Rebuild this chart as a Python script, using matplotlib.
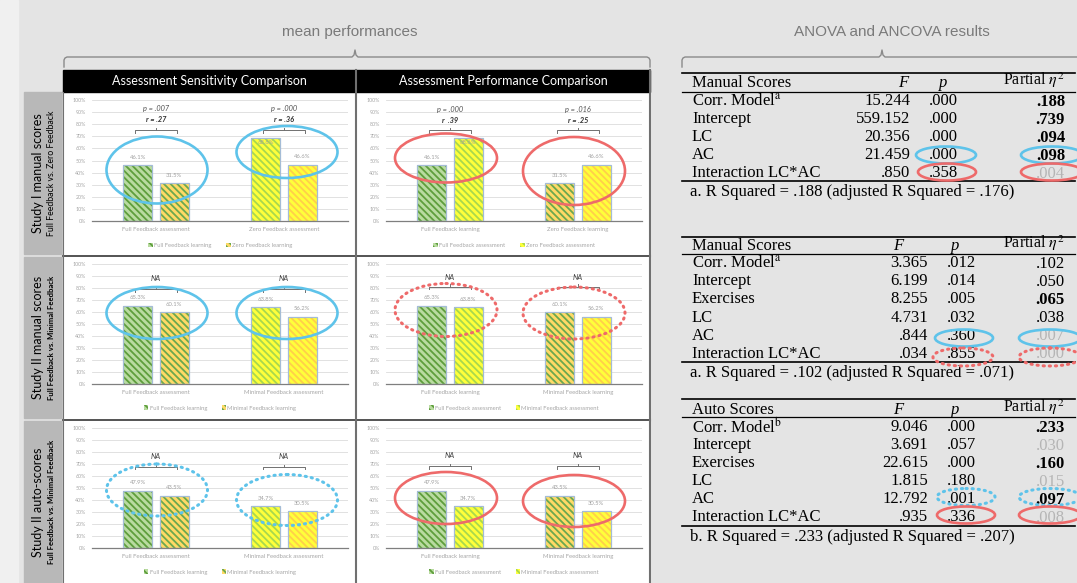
import matplotlib.pyplot as plt
from matplotlib.patches import Rectangle, Ellipse

plt.rcParams['font.family'] = ['Lato', 'DejaVu Sans']
plt.rcParams['mathtext.fontset'] = 'stix'
plt.rcParams['hatch.linewidth'] = 1.3

W, H = 1077, 583

# ---- bar chart data ----
assess_s1 = ['Full Feedback assessment', 'Zero Feedback assessment']
learn_s1 = ['Full Feedback learning', 'Zero Feedback learning']
assess_s2 = ['Full Feedback assessment', 'Minimal Feedback assessment']
learn_s2 = ['Full Feedback learning', 'Minimal Feedback learning']
# row = learning condition, column = assessment condition (%)
study1_manual = [[46.1, 68.6], [31.5, 46.6]]
study2_manual = [[65.3, 63.8], [60.1, 56.2]]
study2_auto = [[47.9, 34.7], [43.5, 30.5]]

sens_s1_stats = [['p = .007', 'r = .27'], ['p = .000', 'r = .36']]
perf_s1_stats = [['p = .000', 'r  .39'], ['p = .016', 'r = .25']]

row_titles = ['Study I manual scores', 'Study II manual scores', 'Study II auto-scores']
row_subtitles = ['Full Feedback vs. Zero Feedback', 'Full Feedback vs. Minimal Feedback',
                 'Full Feedback vs. Minimal Feedback']
col_titles = ['Assessment Sensitivity Comparison', 'Assessment Performance Comparison']

# ---- ANOVA / ANCOVA tables ----
t1_head = 'Manual Scores'
t1_rows = ['Corr. Model$^\\mathrm{a}$', 'Intercept', 'LC', 'AC', 'Interaction LC*AC']
t1_F = ['15.244', '559.152', '20.356', '21.459', '.850']
t1_p = ['.000', '.000', '.000', '.000', '.358']
t1_eta = ['.188', '.739', '.094', '.098', '.004']
t1_note = 'a. R Squared = .188 (adjusted R Squared = .176)'

t2_head = 'Manual Scores'
t2_rows = ['Corr. Model$^\\mathrm{a}$', 'Intercept', 'Exercises', 'LC', 'AC', 'Interaction LC*AC']
t2_F = ['3.365', '6.199', '8.255', '4.731', '.844', '.034']
t2_p = ['.012', '.014', '.005', '.032', '.360', '.855']
t2_eta = ['.102', '.050', '.065', '.038', '.007', '.000']
t2_note = 'a. R Squared = .102 (adjusted R Squared = .071)'

t3_head = 'Auto Scores'
t3_rows = ['Corr. Model$^\\mathrm{b}$', 'Intercept', 'Exercises', 'LC', 'AC', 'Interaction LC*AC']
t3_F = ['9.046', '3.691', '22.615', '1.815', '12.792', '.935']
t3_p = ['.000', '.057', '.000', '.180', '.001', '.336']
t3_eta = ['.233', '.030', '.160', '.015', '.097', '.008']
t3_note = 'b. R Squared = .233 (adjusted R Squared = .207)'

# b = bold, n = normal, g = greyed out
t1_style = ['b', 'b', 'b', 'b', 'g']
t2_style = ['n', 'n', 'b', 'n', 'g', 'g']
t3_style = ['b', 'g', 'b', 'g', 'b', 'g']

BLUE = '#5ec3ea'
RED = '#ee6a6a'
fills = [['#b9dba0', '#ffff3a'], ['#ffd966', '#ffff3a']]
hatch_cols = [['#5e9e3c', '#a8d84e'], ['#6aa84f', '#ffcf4a']]


def frac(x0, y0, x1, y1):
    return [x0 / W, 1 - y1 / H, (x1 - x0) / W, (y1 - y0) / H]


fig = plt.figure(figsize=(10.77, 5.83), dpi=100, facecolor='#e4e4e4')
bg = fig.add_axes([0, 0, 1, 1], zorder=0)
top = fig.add_axes([0, 0, 1, 1], zorder=5)
for a in (bg, top):
    a.set_xlim(0, W)
    a.set_ylim(H, 0)
    a.axis('off')

# page layout
bg.add_patch(Rectangle((0, 0), 18, H, color='#f0f0f0'))
row_y = [(92, 254), (257, 418), (421, 583)]
for k, (y0, y1) in enumerate(row_y):
    bg.add_patch(Rectangle((24, y0), 39, y1 - y0, color='#b8b8b8'))
    bg.add_patch(Rectangle((63, y0), 292, y1 - y0, color='white'))
    bg.add_patch(Rectangle((357, y0), 293, y1 - y0, color='white'))
    cy = (y0 + y1) / 2
    bg.text(38, cy, row_titles[k], rotation=90, ha='center', va='center', fontsize=9)
    bg.text(52, cy, row_subtitles[k], rotation=90, ha='center', va='center',
            fontsize=6.3 if k == 0 else 5.6, weight='normal' if k == 0 else 'bold')
bg.add_patch(Rectangle((63, 70), 587, 22, color='black'))
bg.text(209, 81, col_titles[0], color='white', ha='center', va='center', fontsize=9)
bg.text(503, 81, col_titles[1], color='white', ha='center', va='center', fontsize=9)
for y in (255.5, 419.5):
    bg.plot([63, 650], [y, y], color='#3a3a3a', lw=1.2)
bg.plot([356, 356], [70, H], color='#707070', lw=1.5)
bg.plot([650, 650], [70, H], color='#707070', lw=1.5)
bg.plot([63, 63], [92, H], color='#707070', lw=0.8)


def brace(ax, x0, x1, xm, y):
    xs = [x0, x0, x0 + 1, x0 + 3, xm - 3, xm - 1, xm, xm + 1, xm + 3, x1 - 3, x1 - 1, x1, x1]
    ys = [y + 10, y + 3, y + 1, y, y, y - 2, y - 7, y - 2, y, y, y + 1, y + 3, y + 10]
    ax.plot(xs, ys, color='#8a8a8a', lw=1)


brace(bg, 64, 650, 355, 57)
brace(bg, 682, 1082, 882, 57)
bg.text(350, 32, 'mean performances', ha='center', va='center', fontsize=11,
        color='#7a7a7a', family='Liberation Sans')
bg.text(892, 32, 'ANOVA and ANCOVA results', ha='center', va='center', fontsize=11,
        color='#7a7a7a', family='Liberation Sans')

# ---- bar panels ----
col_x = [(92, 348), (386, 642)]
row_ax_y = [(100, 221), (264, 384), (428, 548)]
panels = [
    (0, 0, study1_manual, assess_s1, learn_s1, sens_s1_stats, 93, 75),
    (0, 1, study1_manual, learn_s1, assess_s1, perf_s1_stats, 92.5, 75),
    (1, 0, study2_manual, assess_s2, learn_s2, None, 88, 79),
    (1, 1, study2_manual, learn_s2, assess_s2, None, 89, 81),
    (2, 0, study2_auto, assess_s2, learn_s2, None, 76, 67.5),
    (2, 1, study2_auto, learn_s2, assess_s2, None, 77, 68),
]

for row, col, vals, groups, series, stats, stat_y, brk_y in panels:
    x0, x1 = col_x[col]
    y0, y1 = row_ax_y[row]
    ax = fig.add_axes(frac(x0, y0, x1, y1), zorder=2)
    ax.patch.set_alpha(0)
    handles = [None, None]
    for i in range(2):
        for j in range(2):
            g, s = (j, i) if col == 0 else (i, j)
            x = g + (s - 0.5) * 0.285
            v = vals[i][j]
            b = ax.bar(x, v, 0.23, color=fills[i][j], edgecolor=hatch_cols[i][j],
                       hatch='\\\\\\\\\\', lw=0, zorder=2)
            ax.bar(x, v, 0.23, fill=False, edgecolor='#a4bcd6', lw=0.9, zorder=3)
            if g == 0:
                handles[s] = b
            ly = v + 6.5 if v + 6.5 < brk_y - 3 else v - 4
            ax.text(x, ly, f'{v}%', ha='center', va='center', fontsize=4.2,
                    color='#a0a0a0', zorder=4)
    for g in range(2):
        if stats is None:
            ax.text(g, stat_y, 'NA', ha='center', va='center', fontsize=5.5,
                    style='italic', color='#404040')
        else:
            ax.text(g, stat_y, stats[g][0], ha='center', va='center', fontsize=5.3,
                    style='italic', color='#505050')
            ax.text(g, stat_y - 9.5, stats[g][1], ha='center', va='center', fontsize=5.3,
                    style='italic', weight='bold', color='#303030')
        ax.plot([g - 0.165, g - 0.165, g + 0.165, g + 0.165],
                [brk_y - 2, brk_y, brk_y, brk_y - 2], color='#707070', lw=0.7)
        ax.plot([g, g], [brk_y, brk_y + 2], color='#707070', lw=0.7)
    ax.set_xlim(-0.5, 1.5)
    ax.set_ylim(0, 100)
    ax.set_yticks(range(0, 101, 10))
    ax.set_yticklabels([f'{t}%' for t in range(0, 101, 10)])
    ax.set_xticks([0, 1])
    ax.set_xticklabels(groups)
    ax.tick_params(axis='y', length=0, labelsize=3.8, labelcolor='#a6a6a6', pad=4.5)
    ax.tick_params(axis='x', length=0, labelsize=4.3, labelcolor='#a6a6a6', pad=4)
    ax.yaxis.grid(True, color='#dcdcdc', lw=0.6)
    ax.set_axisbelow(True)
    for sp in ('top', 'right', 'left'):
        ax.spines[sp].set_visible(False)
    ax.spines['bottom'].set_color('#7f7f7f')
    ax.spines['bottom'].set_linewidth(0.9)
    ax.legend(handles, series, loc='center', bbox_to_anchor=(0.5, -0.2), ncol=2,
              frameon=False, fontsize=4.2, labelcolor='#a6a6a6', handlelength=0.8,
              handleheight=0.8, handletextpad=0.2, columnspacing=2.5)

# ellipses around the bar groups
bar_rings = [
    (157, 170, 101, 67, BLUE, '-'), (287, 152, 101, 52, BLUE, '-'),
    (446, 158, 102, 49, RED, '-'), (574, 171, 102, 68, RED, '-'),
    (157, 313, 101, 52, BLUE, '-'), (287, 313, 101, 52, BLUE, '-'),
    (446, 310, 102, 53, RED, ':'), (574, 313, 102, 52, RED, ':'),
    (157, 490, 101, 52, BLUE, ':'), (287, 500, 101, 51, BLUE, ':'),
    (446, 498, 102, 52, RED, '-'), (574, 501, 102, 52, RED, '-'),
]
table_rings = [
    (946, 155, 60, 17, BLUE, '-'), (1052, 155, 62, 17, BLUE, '-'),
    (947, 172, 58, 17, RED, '-'), (1052, 172, 62, 17, RED, '-'),
    (964, 338, 58, 17, BLUE, '-'), (1050, 338, 62, 17, BLUE, '-'),
    (963, 357, 60, 18, RED, ':'), (1050, 357, 62, 18, RED, ':'),
    (966, 497, 58, 17, BLUE, ':'), (1050, 497, 62, 17, BLUE, ':'),
    (966, 515, 58, 17, RED, '-'), (1050, 515, 62, 17, RED, '-'),
]
for cx, cy, w, h, c, ls in bar_rings + table_rings:
    if ls == ':':
        e = Ellipse((cx, cy), w, h, fill=False, edgecolor=c, lw=2.2,
                    linestyle=(0, (0.4, 1.6)), capstyle='round')
    else:
        e = Ellipse((cx, cy), w, h, fill=False, edgecolor=c, lw=1.9)
    top.add_patch(e)


# ---- tables ----
def table(ax, head, rows, F, p, eta, style, note, y_top, y_head, y_under, y_first,
          step, y_bot, y_note, F_r, p_r, F_h, p_h):
    serif = 'Liberation Serif'
    ax.plot([682, 1075], [y_top, y_top], color='black', lw=1.2)
    ax.plot([682, 1075], [y_under, y_under], color='black', lw=0.9)
    ax.plot([682, 1075], [y_bot, y_bot], color='black', lw=1.2)
    ax.text(692, y_head, head, family=serif, fontsize=12, va='center')
    ax.text(F_h, y_head, 'F', family=serif, fontsize=12, va='center', ha='center',
            style='italic')
    ax.text(p_h, y_head, 'p', family=serif, fontsize=12, va='center', ha='center',
            style='italic')
    ax.text(1065, y_head - 2.5, 'Partial $\\eta^2$', family=serif, fontsize=11.5,
            va='center', ha='right')
    for k in range(len(rows)):
        y = y_first + k * step
        ax.text(692, y, rows[k], family=serif, fontsize=12, va='center')
        ax.text(F_r, y, F[k], family=serif, fontsize=12, va='center', ha='right')
        ax.text(p_r, y, p[k], family=serif, fontsize=12, va='center', ha='right')
        ax.text(1065, y + 0.5, eta[k], family=serif, fontsize=12, va='center', ha='right',
                weight='bold' if style[k] == 'b' else 'normal',
                color='#b5b5b5' if style[k] == 'g' else 'black')
    ax.text(690, y_note, note, family=serif, fontsize=12, va='center')


table(bg, t1_head, t1_rows, t1_F, t1_p, t1_eta, t1_style, t1_note,
      73, 83, 92, 101, 18, 181, 192, 910, 958, 903, 943)
table(bg, t2_head, t2_rows, t2_F, t2_p, t2_eta, t2_style, t2_note,
      237, 246, 254, 263, 18.2, 362, 373, 928, 976, 898, 955)
table(bg, t3_head, t3_rows, t3_F, t3_p, t3_eta, t3_style, t3_note,
      399, 410, 417, 427, 18, 526, 537, 928, 976, 898, 955)

plt.savefig('out.png', dpi=100, facecolor=fig.get_facecolor())
